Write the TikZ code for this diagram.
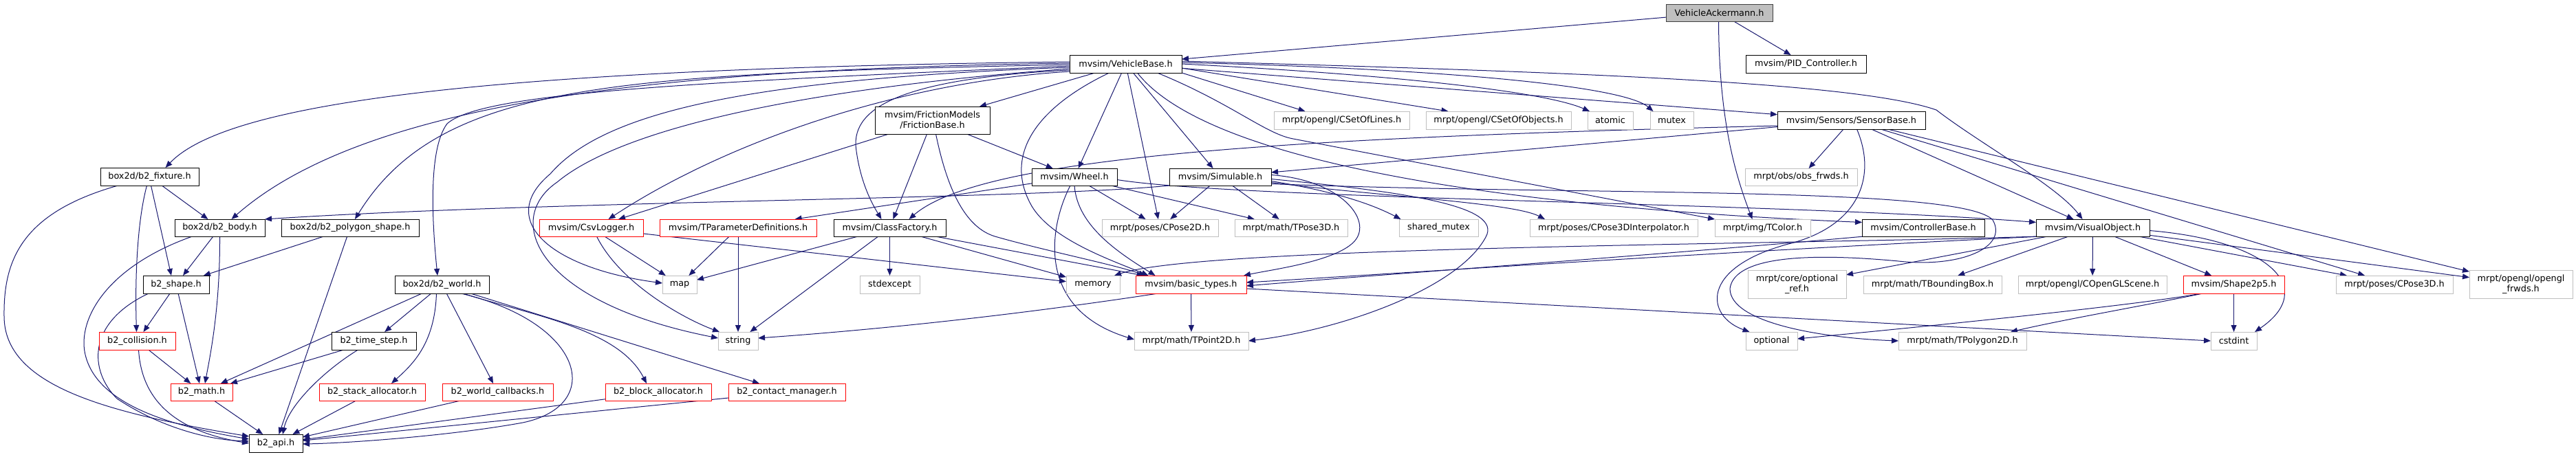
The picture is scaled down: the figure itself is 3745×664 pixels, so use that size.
\documentclass[tikz,border=0pt]{standalone}
\usepackage{fontspec}
\setmainfont{DejaVu Sans}
\usetikzlibrary{arrows.meta}
\pgfdeclarelayer{edgelayer}
\pgfsetlayers{edgelayer,main}
\definecolor{edgec}{HTML}{191970}
\definecolor{redb}{HTML}{FF0000}
\definecolor{grayb}{HTML}{BFBFBF}
\definecolor{topfill}{HTML}{BFBFBF}
\definecolor{topb}{HTML}{404040}
\newcommand{\dxbox}[7]{%
  \pgfmathsetmacro\dxw{#5-#3}%
  \pgfmathsetmacro\dxh{#6-#4}%
  \pgfmathsetmacro\dxx{(#3+#5)/2}%
  \pgfmathsetmacro\dxy{(#4+#6)/2}%
  \node[#1, minimum width=\dxw pt, minimum height=\dxh pt] (#2) at (\dxx,\dxy) {#7};}
\tikzset{
 nbase/.style={rectangle, inner sep=0pt, outer sep=0pt, align=center, font=\fontsize{12.8}{15}\selectfont, line width=0.9pt, fill=white},
 nblk/.style={nbase, draw=black},
 nred/.style={nbase, draw=redb},
 ngry/.style={nbase, draw=grayb},
 ntop/.style={nbase, draw=topb, fill=topfill},
 ed/.style={draw=edgec, line width=1pt, -{Triangle[length=10pt,width=8pt]}},
}
\begin{document}
\begin{tikzpicture}[x=1pt,y=-1pt]
\begin{pgfonlayer}{edgelayer}
\fill[white] (0,0) rectangle (3745,664);
\end{pgfonlayer}
\useasboundingbox (0,0) rectangle (3745,664);
% nodes
\dxbox{ntop}{va}{2422}{6}{2577}{31}{VehicleAckermann.h}
\dxbox{nblk}{vb}{1555}{80}{1718}{106}{mvsim/VehicleBase.h}
\dxbox{nblk}{pid}{2538}{80}{2713}{106}{mvsim/PID\_Controller.h}
\dxbox{nblk}{fix}{146}{244}{289}{270}{box2d/b2\_fixture.h}
\dxbox{nblk}{body}{254}{319}{385}{344}{box2d/b2\_body.h}
\dxbox{nblk}{poly}{409}{319}{609}{344}{box2d/b2\_polygon\_shape.h}
\dxbox{nblk}{shape}{208}{401}{304}{427}{b2\_shape.h}
\dxbox{nred}{coll}{144}{483}{255}{509}{b2\_collision.h}
\dxbox{nred}{math}{248}{558}{338}{583}{b2\_math.h}
\dxbox{nblk}{api}{362}{632}{440}{658}{b2\_api.h}
\dxbox{nblk}{world}{574}{401}{711}{427}{box2d/b2\_world.h}
\dxbox{nblk}{tstep}{482}{483}{605}{509}{b2\_time\_step.h}
\dxbox{nred}{stack}{464}{558}{618}{583}{b2\_stack\_allocator.h}
\dxbox{nred}{wcb}{643}{558}{804}{583}{b2\_world\_callbacks.h}
\dxbox{nred}{block}{880}{558}{1034}{583}{b2\_block\_allocator.h}
\dxbox{nred}{cmgr}{1059}{558}{1229}{583}{b2\_contact\_manager.h}
\dxbox{ngry}{map}{963}{401}{1013}{427}{map}
\dxbox{ngry}{str}{1044}{483}{1102}{509}{string}
\dxbox{nred}{csv}{784}{319}{935}{344}{mvsim/CsvLogger.h}
\dxbox{nred}{tpd}{959}{319}{1187}{344}{mvsim/TParameterDefinitions.h}
\dxbox{nblk}{cf}{1212}{319}{1375}{344}{mvsim/ClassFactory.h}
\dxbox{nblk}{fric}{1272}{155}{1439}{195}{mvsim/FrictionModels\\/FrictionBase.h}
\dxbox{nblk}{wheel}{1500}{245}{1624}{270}{mvsim/Wheel.h}
\dxbox{nblk}{sim}{1700}{245}{1848}{270}{mvsim/Simulable.h}
\dxbox{ngry}{cp2d}{1602}{319}{1771}{344}{mrpt/poses/CPose2D.h}
\dxbox{ngry}{tp3d}{1795}{319}{1959}{344}{mrpt/math/TPose3D.h}
\dxbox{ngry}{lines}{1852}{162}{2049}{188}{mrpt/opengl/CSetOfLines.h}
\dxbox{ngry}{stdexc}{1250}{401}{1337}{427}{stdexcept}
\dxbox{ngry}{memory}{1550}{401}{1628}{427}{memory}
\dxbox{nred}{basic}{1651}{401}{1812}{427}{mvsim/basic\_types.h}
\dxbox{ngry}{tp2d}{1649}{483}{1815}{509}{mrpt/math/TPoint2D.h}
\dxbox{ngry}{objs}{2073}{162}{2284}{188}{mrpt/opengl/CSetOfObjects.h}
\dxbox{ngry}{atomic}{2308}{162}{2374}{188}{atomic}
\dxbox{ngry}{mutex}{2399}{162}{2462}{188}{mutex}
\dxbox{ngry}{smutex}{2034}{319}{2149}{344}{shared\_mutex}
\dxbox{ngry}{cp3di}{2224}{319}{2468}{344}{mrpt/poses/CPose3DInterpolator.h}
\dxbox{ngry}{tcolor}{2493}{319}{2632}{344}{mrpt/img/TColor.h}
\dxbox{nblk}{sensor}{2584}{162}{2799}{188}{mvsim/Sensors/SensorBase.h}
\dxbox{ngry}{obsf}{2537}{245}{2700}{270}{mrpt/obs/obs\_frwds.h}
\dxbox{nblk}{ctrl}{2707}{319}{2885}{344}{mvsim/ControllerBase.h}
\dxbox{nblk}{vo}{2960}{319}{3125}{344}{mvsim/VisualObject.h}
\dxbox{ngry}{optref}{2541}{393}{2684}{434}{mrpt/core/optional\\\_ref.h}
\dxbox{ngry}{tbb}{2709}{401}{2910}{427}{mrpt/math/TBoundingBox.h}
\dxbox{ngry}{scene}{2934}{401}{3150}{427}{mrpt/opengl/COpenGLScene.h}
\dxbox{ngry}{opt}{2538}{483}{2613}{509}{optional}
\dxbox{ngry}{tpoly}{2760}{483}{2946}{509}{mrpt/math/TPolygon2D.h}
\dxbox{nred}{shape25}{3174}{401}{3321}{427}{mvsim/Shape2p5.h}
\dxbox{ngry}{cp3d}{3396}{401}{3566}{427}{mrpt/poses/CPose3D.h}
\dxbox{ngry}{oglf}{3590}{393}{3740}{434}{mrpt/opengl/opengl\\\_frwds.h}
\dxbox{ngry}{cstdint}{3214}{483}{3281}{509}{cstdint}
\begin{pgfonlayer}{edgelayer}
% VehicleAckermann
\draw[ed] (va) -- (vb);
\draw[ed] (va) -- (pid);
\draw[ed] ([xshift=-1pt]va.south) .. controls (2499,180) and (2525,260) .. ([xshift=-15pt]tcolor.north);
% VehicleBase, left side
\draw[ed] ([yshift=3pt]vb.west) .. controls (700,100) and (330,150) .. ([xshift=23pt]fix.north);
\draw[ed] ([yshift=1pt]vb.west) .. controls (1000,100) and (540,140) .. ([xshift=17pt]body.north);
\draw[ed] ([yshift=-1pt]vb.west) .. controls (900,108) and (640,118) .. ([xshift=7pt]poly.north);
\draw[ed] ([yshift=-3pt]vb.west) .. controls (1000,120) and (700,135) .. (650,180) .. controls (620,220) and (630,340) .. ([xshift=-6.5pt]world.north);
\draw[ed] ([yshift=-5pt]vb.west) .. controls (1100,115) and (880,160) .. (800,253) .. controls (720,320) and (800,390) .. ([yshift=2pt]map.west);
\draw[ed] ([yshift=-7pt]vb.west) .. controls (1150,130) and (900,190) .. (810,265) .. controls (730,320) and (780,440) .. ([yshift=4pt]str.west);
\draw[ed] ([yshift=-9pt]vb.west) .. controls (1300,115) and (1235,160) .. (1245,220) .. controls (1252,270) and (1270,300) .. ([xshift=-12pt]cf.north);
\draw[ed] ([yshift=-11pt]vb.west) .. controls (1300,120) and (1050,210) .. ([xshift=25pt]csv.north);
% VehicleBase, bottom
\draw[ed] (vb) -- (fric);
\draw[ed] ([xshift=-24pt]vb.south) .. controls (1500,160) and (1460,230) .. (1500,300) .. controls (1530,350) and (1620,380) .. ([xshift=-62pt]basic.north);
\draw[ed] (vb) -- (wheel);
\draw[ed] (vb) -- (cp2d);
\draw[ed] (vb) -- (sim);
\draw[ed] ([xshift=17pt]vb.south) .. controls (1750,230) and (2150,300) .. ([yshift=8pt]ctrl.west);
\draw[ed] ([xshift=46pt]vb.south) .. controls (1790,150) and (1840,195) .. (1880,202) -- (tcolor.north west);
\draw[ed] (vb.south east) -- ([xshift=-53pt]lines.north);
% VehicleBase, right side
\draw[ed] ([yshift=-6pt]vb.east) -- ([xshift=-73pt]objs.north);
\draw[ed] ([yshift=0pt]vb.east) .. controls (2050,110) and (2250,135) .. ([xshift=-30pt]atomic.north);
\draw[ed] ([yshift=2pt]vb.east) .. controls (2100,100) and (2360,125) .. ([xshift=-27pt]mutex.north);
\draw[ed] (vb) -- (sensor);
\draw[ed] ([yshift=4pt]vb.east) .. controls (2300,105) and (2700,120) .. (2815,160) .. controls (2880,210) and (2990,270) .. ([xshift=-15pt]vo.north);
% FrictionBase
\draw[ed] (fric) -- (csv);
\draw[ed] (fric) -- (cf);
\draw[ed] (fric) -- (wheel);
\draw[ed] ([xshift=5pt]fric.south) .. controls (1380,290) and (1410,335) .. (1450,345) .. controls (1520,365) and (1620,385) .. ([xshift=-66pt]basic.north);
% Wheel
\draw[ed] (wheel) -- (tpd);
\draw[ed] (wheel) -- (cp2d);
\draw[ed] (wheel) -- (tp3d);
\draw[ed] (wheel.south) .. controls (1566,330) and (1630,370) .. ([xshift=-52pt]basic.north);
\draw[ed] ([xshift=-6pt]wheel.south) .. controls (1525,330) and (1505,450) .. ([yshift=2pt]tp2d.west);
\draw[ed] ([yshift=-4pt]wheel.east) .. controls (1800,290) and (2600,295) .. ([yshift=8pt]vo.west);
% Simulable
\draw[ed] (sim) -- (cp2d);
\draw[ed] (sim) -- (tp3d);
\draw[ed] (sim.south west) .. controls (1500,290) and (800,292) .. (body.north east);
\draw[ed] ([yshift=3pt]sim.east) .. controls (1950,262) and (1995,320) .. (1970,350) .. controls (1945,380) and (1850,392) .. ([xshift=-4pt]basic.north east);
\draw[ed] ([yshift=-3pt]sim.east) .. controls (2050,280) and (2185,300) .. (2160,345) .. controls (2120,420) and (1950,480) .. (tp2d.east);
\draw[ed] ([yshift=-6pt]sim.east) .. controls (1950,280) and (2000,300) .. ([xshift=-55pt]smutex.north);
\draw[ed] ([yshift=-8pt]sim.east) .. controls (2000,285) and (2200,295) .. ([xshift=-100pt]cp3di.north);
\draw[ed] ([yshift=-10pt]sim.east) .. controls (2300,285) and (2850,270) .. (2897,320) .. controls (2920,360) and (2850,390) .. (2760,380) .. controls (2600,365) and (2520,380) .. (2515,420) .. controls (2515,470) and (2650,492) .. (tpoly.west);
% SensorBase
\draw[ed] (sensor) -- (sim);
\draw[ed] (sensor) -- (obsf);
\draw[ed] (sensor) -- (vo);
\draw[ed] (sensor) -- (cp3d);
\draw[ed] (sensor) -- (oglf);
\draw[ed] ([yshift=-8pt]sensor.west) .. controls (1900,200) and (1430,225) .. ([xshift=28pt]cf.north);
\draw[ed] ([xshift=8pt]sensor.south) .. controls (2730,260) and (2700,330) .. (2600,355) .. controls (2470,390) and (2480,460) .. ([xshift=-32pt]opt.north);
% ControllerBase
\draw[ed] ([xshift=3pt]ctrl.south west) .. controls (2400,372) and (2000,400) .. ([yshift=-2pt]basic.east);
% VisualObject
\draw[ed] (vo) -- (optref);
\draw[ed] (vo) -- (tbb);
\draw[ed] (vo) -- (scene);
\draw[ed] (vo) -- (shape25);
\draw[ed] (vo) -- (cp3d);
\draw[ed] (vo) -- (oglf);
\draw[ed] ([yshift=-4pt]vo.east) .. controls (3300,350) and (3370,420) .. ([xshift=-3pt]cstdint.north east);
\draw[ed] ([xshift=3pt]vo.south west) .. controls (2600,356) and (1750,358) .. ([xshift=-8pt]memory.north east);
\draw[ed] ([xshift=8pt]vo.south west) .. controls (2500,366) and (2000,400) .. ([yshift=3pt]basic.east);
% Shape2p5
\draw[ed] (shape25) -- (cstdint);
\draw[ed] ([xshift=-47pt]shape25.south) .. controls (3100,445) and (2800,475) .. ([yshift=3pt]opt.east);
\draw[ed] ([xshift=-45pt]shape25.south) .. controls (3100,448) and (3000,465) .. ([xshift=70pt]tpoly.north);
% basic_types
\draw[ed] (basic) -- (tp2d);
\draw[ed] ([xshift=-48pt]basic.south) .. controls (1500,455) and (1300,478) .. ([yshift=4pt]str.east);
\draw[ed] ([yshift=-6pt]basic.east) -- (cstdint.west);
% ClassFactory
\draw[ed] (cf) -- (stdexc);
\draw[ed] (cf) -- (map);
\draw[ed] (cf) -- (str);
\draw[ed] (cf) -- (memory);
\draw[ed] (cf) -- (basic);
% CsvLogger
\draw[ed] (csv) -- (map);
\draw[ed] (csv) -- (memory);
\draw[ed] ([xshift=8pt]csv.south) .. controls (900,410) and (990,462) .. ([xshift=-27pt]str.north);
% TParameterDefinitions
\draw[ed] (tpd) -- (map);
\draw[ed] (tpd) -- (str);
% box2d
\draw[ed] (fix) -- (body);
\draw[ed] ([xshift=2pt]fix.south) -- ([xshift=-7pt]shape.north);
\draw[ed] ([xshift=-4pt]fix.south) .. controls (200,320) and (196,400) .. ([xshift=-1pt]coll.north);
\draw[ed] ([xshift=-46pt]fix.south) .. controls (30,310) and (5,380) .. (6,460) .. controls (6,560) and (150,600) .. ([yshift=10pt]api.west);
\draw[ed] (body) -- (shape);
\draw[ed] (body.south) .. controls (320,450) and (305,520) .. ([xshift=5pt]math.north);
\draw[ed] ([xshift=-40pt]body.south) .. controls (150,390) and (110,470) .. (125,520) .. controls (145,590) and (250,620) .. ([yshift=6pt]api.west);
\draw[ed] (poly) -- (shape);
\draw[ed] (poly) -- (api);
\draw[ed] (shape) -- (coll);
\draw[ed] (shape) -- (math);
\draw[ed] ([xshift=-40pt]shape.south) .. controls (125,470) and (130,540) .. (170,580) .. controls (230,620) and (300,640) .. ([yshift=3pt]api.west);
\draw[ed] (coll) -- (math);
\draw[ed] ([xshift=2pt]coll.south) .. controls (205,570) and (240,625) .. (api.west);
\draw[ed] (math) -- (api);
\draw[ed] (world) -- (math);
\draw[ed] (world) -- (tstep);
\draw[ed] ([xshift=-8pt]world.south) .. controls (632,500) and (600,530) .. ([xshift=28pt]stack.north);
\draw[ed] (world) -- (wcb);
\draw[ed] ([xshift=30pt]world.south) .. controls (780,460) and (900,480) .. ([xshift=-17pt]block.north);
\draw[ed] (world) -- (cmgr);
\draw[ed] ([xshift=28pt]world.south) .. controls (850,470) and (880,590) .. (760,615) .. controls (650,635) and (500,645) .. ([yshift=-1pt]api.east);
\draw[ed] (tstep) -- (math);
\draw[ed] ([xshift=-23pt]tstep.south) .. controls (470,540) and (420,590) .. ([xshift=10pt]api.north);
\draw[ed] (stack) -- (api);
\draw[ed] (wcb) -- (api);
\draw[ed] (block) -- (api);
\draw[ed] (cmgr) -- (api);
\end{pgfonlayer}
\end{tikzpicture}
\end{document}
